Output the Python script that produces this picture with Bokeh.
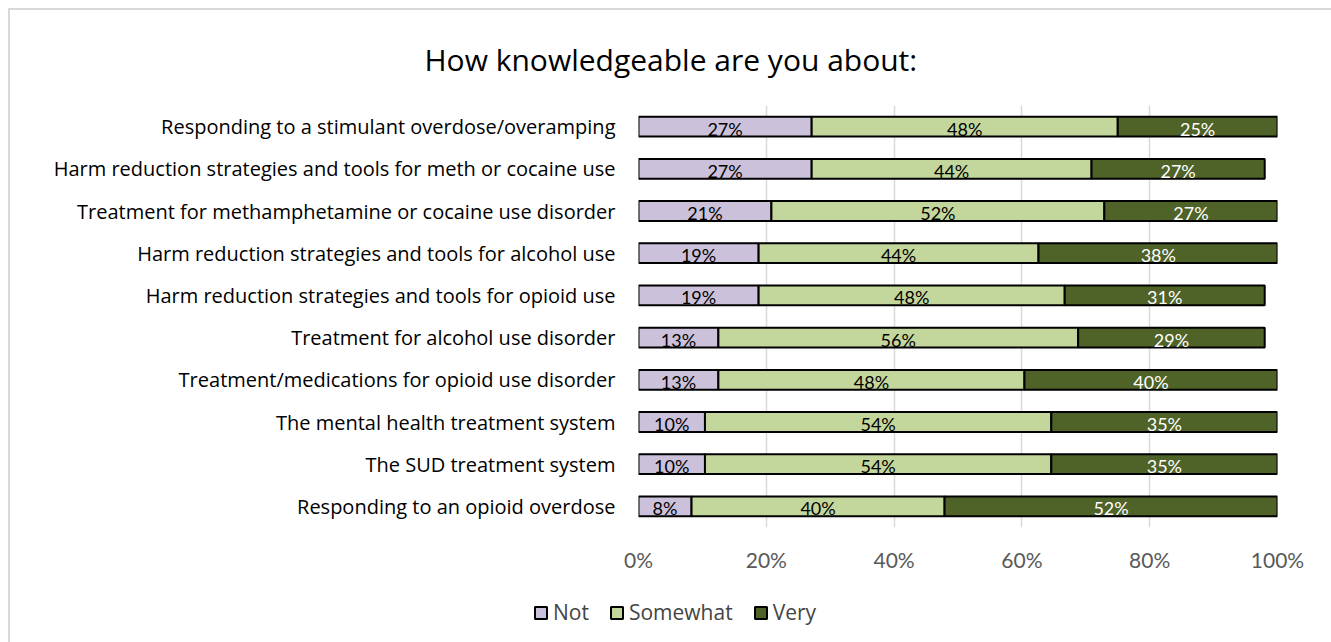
from bokeh.plotting import figure
from bokeh.layouts import column
from bokeh.models import (ColumnDataSource, FactorRange, Range1d, FixedTicker,
                          PrintfTickFormatter, Legend, LegendItem)
from bokeh.core.properties import value
from bokeh.embed import file_html
from bokeh.resources import INLINE

title_text = "How knowledgeable are you about:"
categories = [
    "Responding to a stimulant overdose/overamping",
    "Harm reduction strategies and tools for meth or cocaine use",
    "Treatment for methamphetamine or cocaine use disorder",
    "Harm reduction strategies and tools for alcohol use",
    "Harm reduction strategies and tools for opioid use",
    "Treatment for alcohol use disorder",
    "Treatment/medications for opioid use disorder",
    "The mental health treatment system",
    "The SUD treatment system",
    "Responding to an opioid overdose",
]
series_names = ["Not", "Somewhat", "Very"]
not_vals = [27.1, 27.1, 20.8, 18.8, 18.8, 12.5, 12.5, 10.4, 10.4, 8.3]
somewhat_vals = [47.9, 43.8, 52.1, 43.8, 47.9, 56.3, 47.9, 54.2, 54.2, 39.6]
very_vals = [25.0, 27.1, 27.1, 37.5, 31.3, 29.2, 39.6, 35.4, 35.4, 52.1]
tick_values = [0, 20, 40, 60, 80, 100]
colors = ["#ccc1da", "#c3d69b", "#4f6228"]
label_colors = ["black", "black", "white"]

W = 1321
H_MAIN = 575
H_LEG = 57

src = ColumnDataSource(dict(cat=categories, Not=not_vals, Somewhat=somewhat_vals, Very=very_vals))

p = figure(width=W, height=H_MAIN, output_backend="svg", toolbar_location=None,
           y_range=FactorRange(*list(reversed(categories))),
           x_range=Range1d(0, 100),
           min_border_left=628, min_border_right=54, min_border_top=95, min_border_bottom=58)

renderers = p.hbar_stack(series_names, y="cat", height=0.47, color=colors, source=src,
                         line_color="black", line_width=2)

# data labels
series = [not_vals, somewhat_vals, very_vals]
lx, ly, lt, lc = [], [], [], []
for i, c in enumerate(categories):
    left = 0.0
    for s, vals in enumerate(series):
        v = vals[i]
        lx.append(left + v / 2)
        ly.append(c)
        lt.append("%d%%" % int(v + 0.5))
        lc.append(label_colors[s])
        left += v
lsrc = ColumnDataSource(dict(x=lx, y=ly, t=lt, c=lc))
p.text(x="x", y="y", text="t", source=lsrc, text_color="c", text_align="center",
       text_baseline="middle", y_offset=2, text_font=value("Lato"), text_font_size="18px")

# axes
xa = p.xaxis[0]
xa.ticker = FixedTicker(ticks=tick_values)
xa.formatter = PrintfTickFormatter(format="%d%%")
xa.axis_line_color = None
xa.major_tick_line_color = None
xa.minor_tick_line_color = None
xa.major_label_text_color = "#595959"
xa.major_label_text_font = "Lato"
xa.major_label_text_font_size = "21px"
xa.major_label_standoff = 13

ya = p.yaxis[0]
ya.axis_line_color = None
ya.major_tick_line_color = None
ya.minor_tick_line_color = None
ya.major_label_text_color = "black"
ya.major_label_text_font = "Open Sans"
ya.major_label_text_font_size = "20px"
ya.major_label_standoff = 17

p.xgrid.grid_line_color = "#d9d9d9"
p.xgrid.grid_line_width = 1.5
p.ygrid.grid_line_color = None
p.outline_line_color = None

# title
p.title.text = title_text
p.title.align = "left"
p.title.offset = -214
p.title.standoff = 52
p.title.text_font = "Open Sans"
p.title.text_font_size = "30px"
p.title.text_font_style = "normal"
p.title.text_color = "black"

# legend strip (separate canvas so that the legend is not clipped by the main frame)
pl = figure(width=W, height=H_LEG, output_backend="svg", toolbar_location=None,
            x_range=Range1d(0, 100), y_range=FactorRange(*categories), min_border=0)
pl.frame_align = False
pl.axis.visible = False
pl.grid.grid_line_color = None
pl.outline_line_color = None
# same stacked series, hidden: only their legend swatches are shown
leg_renderers = pl.hbar_stack(series_names, y="cat", height=0.47, color=colors, source=src,
                              line_color="black", line_width=2)
for r in leg_renderers:
    r.visible = False
legend = Legend(items=[LegendItem(label=n, renderers=[r]) for n, r in zip(series_names, leg_renderers)],
                orientation="horizontal", location=(523, 16),
                label_text_font="Open Sans", label_text_font_size="21px",
                glyph_width=15, glyph_height=15, spacing=20, label_standoff=5,
                padding=0, margin=0,
                background_fill_alpha=0, border_line_color=None)
pl.add_layout(legend, "center")

layout = column(p, pl, spacing=0)
layout.styles = {"margin-left": "8px", "margin-top": "8px",
                 "border-top": "2px solid #d9d9d9", "border-left": "2px solid #d9d9d9"}

open("out.html", "w").write(file_html(layout, INLINE))
